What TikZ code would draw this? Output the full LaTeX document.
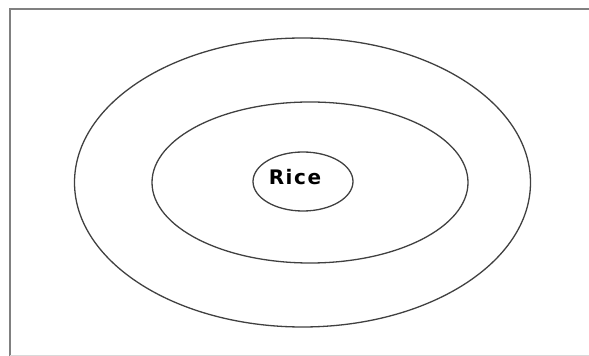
\documentclass[tikz,border=0pt]{standalone}
\usepackage{fontspec}
\newfontfamily\ricefont[LetterSpace=8]{DejaVu Sans Bold}
\usetikzlibrary{shapes.geometric}

\tikzset{
  ring/.style={draw=black!75, line width=1.3pt, ellipse, inner sep=0pt},
  frameline/.style={draw=black!50, line width=2.2pt},
}

\begin{document}
\begin{tikzpicture}[x=1pt,y=1pt]
\useasboundingbox (0,0) rectangle (589,356);

% frame
\coordinate (F1) at (10,0);
\coordinate (F2) at (10,347);
\coordinate (F3) at (589,347);
\draw[frameline] (F1)--(F2)--(F3);
\coordinate (B1) at (10,0.5);
\coordinate (B2) at (589,0.5);
\draw[black!15, line width=1pt] (B1)--(B2);

% rings
\node[ring, minimum width=456, minimum height=289] (outer) at (302.5,173.5) {};
\node[ring, minimum width=316, minimum height=161] (middle) at (310,173.5) {};
\node[ring, minimum width=100, minimum height=59] (inner) at (303,174.5) {};
\node[inner sep=0pt] (rice) at (295,179)
  {\ricefont\fontsize{20}{20}\selectfont Rice};
\end{tikzpicture}
\end{document}
